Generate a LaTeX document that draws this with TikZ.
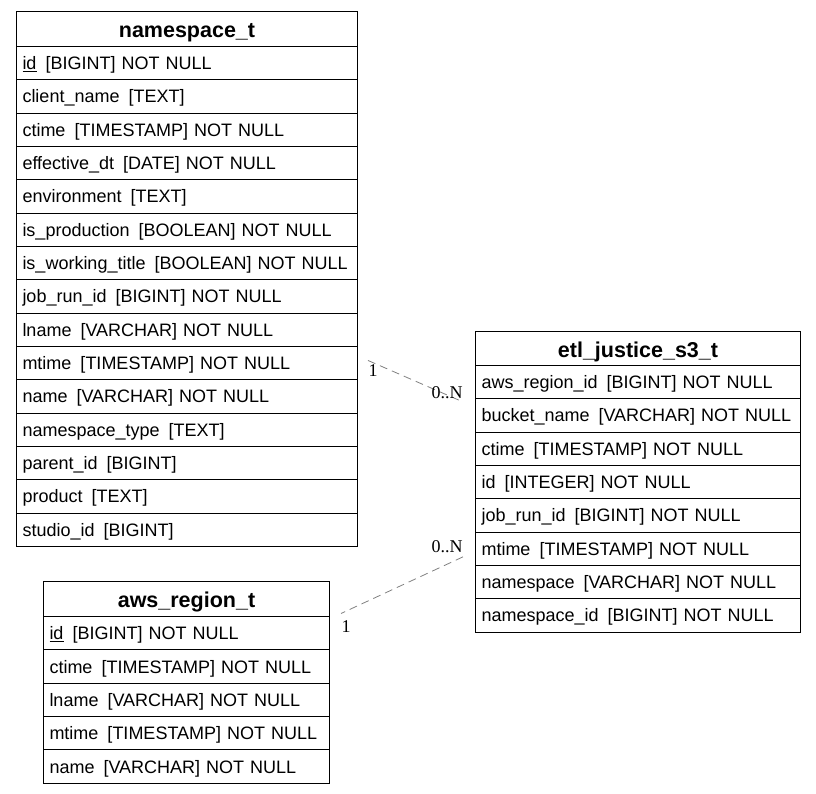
\documentclass[tikz,border=0pt]{standalone}
\usepackage{fontspec}
\setmainfont{Liberation Sans}
\newfontfamily\cardfont{Liberation Serif}
\begin{document}
\begin{tikzpicture}[x=1pt,y=-1pt,line width=1pt,
  hdr/.style={draw,anchor=north west,minimum width=#1,minimum height=35pt,inner sep=0pt,text height=17.5pt,text depth=0pt,font=\fontsize{21.5}{24}\selectfont\bfseries},
  fld/.style={draw,anchor=north west,text width=#1,minimum height=33.33pt,inner xsep=6pt,inner ysep=0pt,text height=13pt,text depth=0pt,align=left,font=\fontsize{18}{21}\selectfont},
  rel/.style={draw=gray,line width=0.8pt,dash pattern=on 8pt off 5pt},
  card/.style={inner sep=0pt,font=\cardfont\fontsize{18}{21}\selectfont}]
\useasboundingbox (0,0) rectangle (816,794);
% namespace_t
\node[hdr=341pt] (ns0) at (16,11) {namespace\_t};
\node[fld=329pt] (ns1) at (16,46) {\underline{id}\enspace[BIGINT] NOT NULL};
\node[fld=329pt] (ns2) at (16,79.33) {client\_name\enspace[TEXT]};
\node[fld=329pt] (ns3) at (16,112.67) {ctime\enspace[TIMESTAMP] NOT NULL};
\node[fld=329pt] (ns4) at (16,146) {effective\_dt\enspace[DATE] NOT NULL};
\node[fld=329pt] (ns5) at (16,179.33) {environment\enspace[TEXT]};
\node[fld=329pt] (ns6) at (16,212.67) {is\_production\enspace[BOOLEAN] NOT NULL};
\node[fld=329pt] (ns7) at (16,246) {is\_working\_title\enspace[BOOLEAN] NOT NULL};
\node[fld=329pt] (ns8) at (16,279.33) {job\_run\_id\enspace[BIGINT] NOT NULL};
\node[fld=329pt] (ns9) at (16,312.67) {lname\enspace[VARCHAR] NOT NULL};
\node[fld=329pt] (ns10) at (16,346) {mtime\enspace[TIMESTAMP] NOT NULL};
\node[fld=329pt] (ns11) at (16,379.33) {name\enspace[VARCHAR] NOT NULL};
\node[fld=329pt] (ns12) at (16,412.67) {namespace\_type\enspace[TEXT]};
\node[fld=329pt] (ns13) at (16,446) {parent\_id\enspace[BIGINT]};
\node[fld=329pt] (ns14) at (16,479.33) {product\enspace[TEXT]};
\node[fld=329pt] (ns15) at (16,512.67) {studio\_id\enspace[BIGINT]};
% etl_justice_s3_t
\node[hdr=325pt,minimum height=34pt] (et0) at (475,331) {etl\_justice\_s3\_t};
\node[fld=313pt] (et1) at (475,365) {aws\_region\_id\enspace[BIGINT] NOT NULL};
\node[fld=313pt] (et2) at (475,398.33) {bucket\_name\enspace[VARCHAR] NOT NULL};
\node[fld=313pt] (et3) at (475,431.67) {ctime\enspace[TIMESTAMP] NOT NULL};
\node[fld=313pt] (et4) at (475,465) {id\enspace[INTEGER] NOT NULL};
\node[fld=313pt] (et5) at (475,498.33) {job\_run\_id\enspace[BIGINT] NOT NULL};
\node[fld=313pt] (et6) at (475,531.67) {mtime\enspace[TIMESTAMP] NOT NULL};
\node[fld=313pt] (et7) at (475,565) {namespace\enspace[VARCHAR] NOT NULL};
\node[fld=313pt] (et8) at (475,598.33) {namespace\_id\enspace[BIGINT] NOT NULL};
% aws_region_t
\node[hdr=286pt] (aw0) at (43,581) {aws\_region\_t};
\node[fld=274pt] (aw1) at (43,616) {\underline{id}\enspace[BIGINT] NOT NULL};
\node[fld=274pt] (aw2) at (43,649.33) {ctime\enspace[TIMESTAMP] NOT NULL};
\node[fld=274pt] (aw3) at (43,682.67) {lname\enspace[VARCHAR] NOT NULL};
\node[fld=274pt] (aw4) at (43,716) {mtime\enspace[TIMESTAMP] NOT NULL};
\node[fld=274pt] (aw5) at (43,749.33) {name\enspace[VARCHAR] NOT NULL};
% relations
\coordinate (r1a) at ([xshift=10pt,yshift=2.7pt]ns10.east);
\coordinate (r1b) at ([xshift=-12pt,yshift=-3.6pt]et2.north west);
\coordinate (r2a) at ([xshift=-12pt,yshift=-8pt]et6.west);
\coordinate (r2b) at ([xshift=11pt,yshift=-14.5pt]aw0.east);
\draw[rel] (r1a) -- (r1b);
\draw[rel] (r2a) -- (r2b);
\node[card,anchor=north west] (c1a) at ([yshift=-4pt]r1a) {1};
\node[card,anchor=south east] (c1b) at ([yshift=3pt]r1b) {0..N};
\node[card,anchor=south east] (c2a) at ([yshift=4pt]r2a) {0..N};
\node[card,anchor=north west] (c2b) at ([yshift=-7pt]r2b) {1};
\end{tikzpicture}
\end{document}
